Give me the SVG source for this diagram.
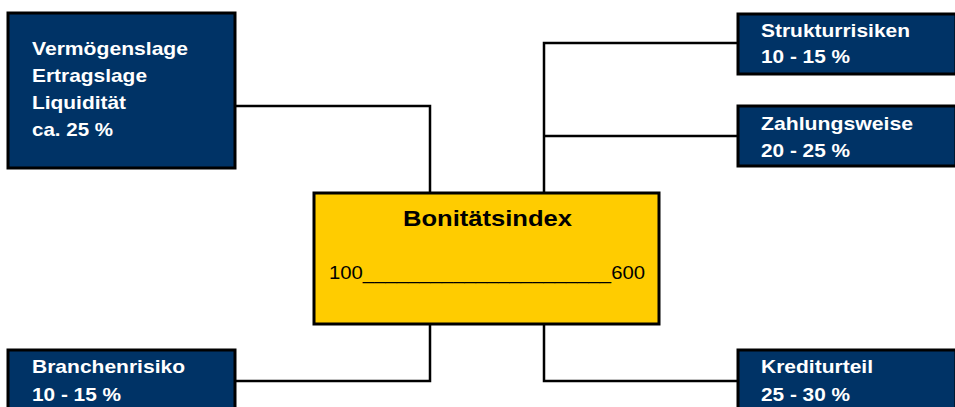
<svg xmlns="http://www.w3.org/2000/svg" width="955" height="407" viewBox="0 0 955 407">
<style>
.box{fill:#003366;stroke:#000;stroke-width:3}
.center{fill:#FFCC00;stroke:#000;stroke-width:3}
.t{font-family:"Liberation Sans",Arial,sans-serif;font-weight:bold;font-size:19px;fill:#fff}
.c{stroke:#000;stroke-width:2.5;fill:none}
</style>
<rect width="955" height="407" fill="#fff"/>
<g id="connectors">
<polyline class="c" points="235,106 430,106 430,192"/>
<polyline class="c" points="737,43 544,43 544,192"/>
<line class="c" x1="544" y1="136" x2="737" y2="136"/>
<polyline class="c" points="430,325 430,381 235,381"/>
<polyline class="c" points="544,325 544,381 737,381"/>
</g>
<g id="node-vermoegen">
<rect class="box" x="8" y="13" width="227" height="155"/>
<text class="t" x="32" y="55" textLength="156" lengthAdjust="spacingAndGlyphs">Vermögenslage</text>
<text class="t" x="32" y="82" textLength="115" lengthAdjust="spacingAndGlyphs">Ertragslage</text>
<text class="t" x="32" y="109" textLength="94" lengthAdjust="spacingAndGlyphs">Liquidität</text>
<text class="t" x="32" y="136" textLength="81" lengthAdjust="spacingAndGlyphs">ca. 25 %</text>
</g>
<g id="node-struktur">
<rect class="box" x="738" y="14" width="218" height="60"/>
<text class="t" x="761" y="37" textLength="149" lengthAdjust="spacingAndGlyphs">Strukturrisiken</text>
<text class="t" x="761" y="63" textLength="89" lengthAdjust="spacingAndGlyphs">10 - 15 %</text>
</g>
<g id="node-zahlung">
<rect class="box" x="738" y="106" width="218" height="60"/>
<text class="t" x="761" y="130" textLength="152" lengthAdjust="spacingAndGlyphs">Zahlungsweise</text>
<text class="t" x="761" y="157" textLength="89" lengthAdjust="spacingAndGlyphs">20 - 25 %</text>
</g>
<g id="node-bonitaet">
<rect class="center" x="314" y="193" width="345" height="131"/>
<text x="403" y="226" textLength="169" lengthAdjust="spacingAndGlyphs" font-family="Liberation Sans,Arial,sans-serif" font-weight="bold" font-size="22" fill="#000">Bonitätsindex</text>
<text x="329" y="279" textLength="316" lengthAdjust="spacingAndGlyphs" font-family="Liberation Sans,Arial,sans-serif" font-size="19" fill="#000">100______________________600</text>
</g>
<g id="node-branche">
<rect class="box" x="8" y="350" width="227" height="70"/>
<text class="t" x="32" y="373" textLength="153" lengthAdjust="spacingAndGlyphs">Branchenrisiko</text>
<text class="t" x="32" y="401" textLength="89" lengthAdjust="spacingAndGlyphs">10 - 15 %</text>
</g>
<g id="node-kredit">
<rect class="box" x="738" y="350" width="218" height="70"/>
<text class="t" x="761" y="373" textLength="112" lengthAdjust="spacingAndGlyphs">Krediturteil</text>
<text class="t" x="761" y="401" textLength="89" lengthAdjust="spacingAndGlyphs">25 - 30 %</text>
</g>
</svg>
